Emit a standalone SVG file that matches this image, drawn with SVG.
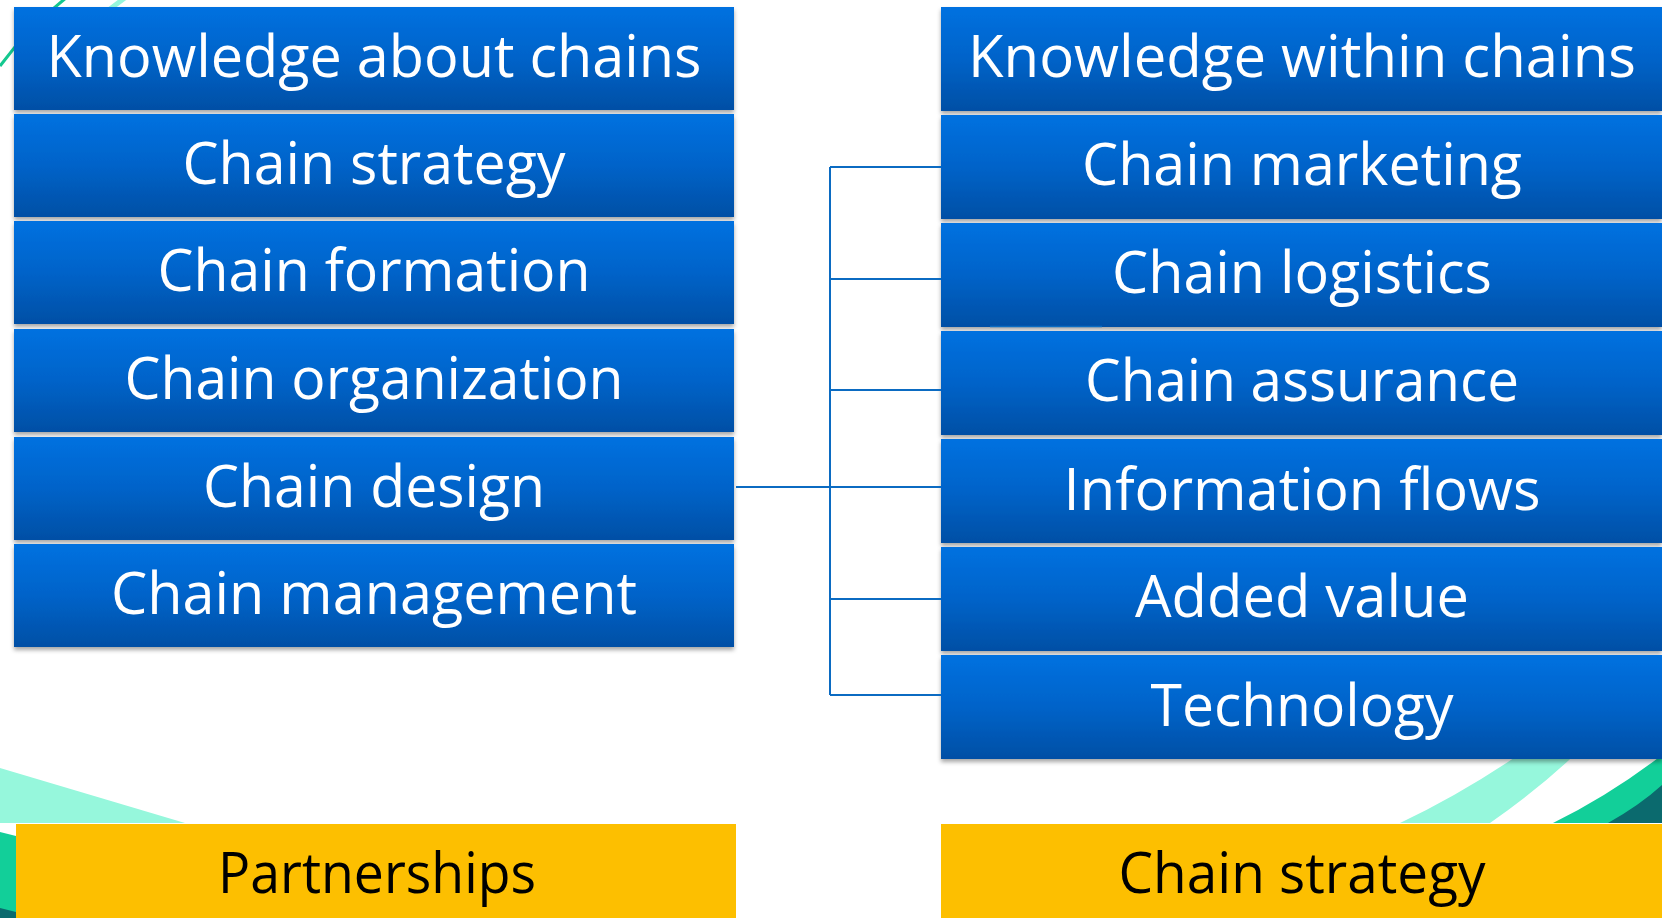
<svg xmlns="http://www.w3.org/2000/svg" width="1662" height="918" viewBox="0 0 1662 918">
<defs>
<linearGradient id="blue" x1="0" y1="0" x2="0" y2="1">
<stop offset="0" stop-color="#0071E0"/>
<stop offset="0.5" stop-color="#0063C9"/>
<stop offset="1" stop-color="#004FA5"/>
</linearGradient>
<filter id="sh" x="-5%" y="-20%" width="110%" height="150%">
<feDropShadow dx="0" dy="3" stdDeviation="2" flood-color="#000" flood-opacity="0.35"/>
</filter>
<style>
.box{fill:url(#blue);filter:url(#sh)}
.yb{fill:#FDBF00}
.t{font-family:"Open Sans","Noto Sans","Liberation Sans",sans-serif;font-size:59px;fill:#fff;text-anchor:middle}
.ty{font-family:"Open Sans","Noto Sans","Liberation Sans",sans-serif;font-size:56px;fill:#000;text-anchor:middle}
.c{stroke:#0B6BC2;stroke-width:2;fill:none}
</style>
</defs>
<rect width="1662" height="918" fill="#fff"/>
<g id="decor">
<path d="M0 768 L185 823 L0 823 Z" fill="#96F7DC"/>
<path d="M0 832 L16 836 L16 918 L0 918 Z" fill="#12CF99"/>
<path d="M0 908 L16 912 L16 918 L0 918 Z" fill="#0B6A6E"/>
<path d="M1400 823 Q1470 790 1540 740 L1590 740 Q1545 785 1490 823 Z" fill="#96F7DC"/>
<path d="M1553 823 Q1610 795 1662 755 L1662 823 Z" fill="#12CF99"/>
<path d="M1608 823 Q1640 805 1662 785 L1662 823 Z" fill="#0B6A6E"/>
<path d="M0 66 Q30 25 70 -5" stroke="#14C88F" stroke-width="3" fill="none"/>
<path d="M110 9 Q118 3 126 -3" stroke="#96F7DC" stroke-width="5" fill="none"/>
</g>
<g id="n1"><rect class="box" x="14" y="7" width="720" height="103"/><text class="t" x="374" y="77" textLength="655" lengthAdjust="spacingAndGlyphs">Knowledge about chains</text></g>
<g id="n2"><rect class="box" x="14" y="114" width="720" height="103"/><text class="t" x="374" y="184" textLength="383" lengthAdjust="spacingAndGlyphs">Chain strategy</text></g>
<g id="n3"><rect class="box" x="14" y="221" width="720" height="103"/><text class="t" x="374" y="291" textLength="433" lengthAdjust="spacingAndGlyphs">Chain formation</text></g>
<g id="n4"><rect class="box" x="14" y="329" width="720" height="103"/><text class="t" x="374" y="399" textLength="499" lengthAdjust="spacingAndGlyphs">Chain organization</text></g>
<g id="n5"><rect class="box" x="14" y="437" width="720" height="103"/><text class="t" x="374" y="507" textLength="342" lengthAdjust="spacingAndGlyphs">Chain design</text></g>
<g id="n6"><rect class="box" x="14" y="544" width="720" height="103"/><text class="t" x="374" y="614" textLength="526" lengthAdjust="spacingAndGlyphs">Chain management</text></g>
<g id="m1"><rect class="box" x="941" y="7" width="721" height="104"/><text class="t" x="1302" y="77" textLength="668" lengthAdjust="spacingAndGlyphs">Knowledge within chains</text></g>
<g id="m2"><rect class="box" x="941" y="115" width="721" height="104"/><text class="t" x="1302" y="185" textLength="440" lengthAdjust="spacingAndGlyphs">Chain marketing</text></g>
<g id="m3"><rect class="box" x="941" y="223" width="721" height="104"/><text class="t" x="1302" y="293" textLength="380" lengthAdjust="spacingAndGlyphs">Chain logistics</text></g>
<g id="m4"><rect class="box" x="941" y="331" width="721" height="104"/><text class="t" x="1302" y="401" textLength="434" lengthAdjust="spacingAndGlyphs">Chain assurance</text></g>
<g id="m5"><rect class="box" x="941" y="439" width="721" height="104"/><text class="t" x="1302" y="510" textLength="477" lengthAdjust="spacingAndGlyphs">Information flows</text></g>
<g id="m6"><rect class="box" x="941" y="547" width="721" height="104"/><text class="t" x="1302" y="617" textLength="334" lengthAdjust="spacingAndGlyphs">Added value</text></g>
<g id="m7"><rect class="box" x="941" y="655" width="721" height="104"/><text class="t" x="1302" y="726" textLength="303" lengthAdjust="spacingAndGlyphs">Technology</text></g>
<g id="y1"><rect class="yb" x="16" y="824" width="720" height="94"/><text class="ty" x="377" y="893" textLength="318" lengthAdjust="spacingAndGlyphs">Partnerships</text></g>
<g id="y2"><rect class="yb" x="941" y="824" width="721" height="94"/><text class="ty" x="1302" y="893" textLength="367" lengthAdjust="spacingAndGlyphs">Chain strategy</text></g>
<g id="connectors">
<path class="c" d="M736 487 H830 M830 167 V695 M830 167 H941 M830 279 H941 M830 390 H941 M830 487 H941 M830 599 H941 M830 695 H941"/>
<path d="M990 326.5 H1102" stroke="#0B6BC2" stroke-width="1.5"/>
</g>
</svg>
